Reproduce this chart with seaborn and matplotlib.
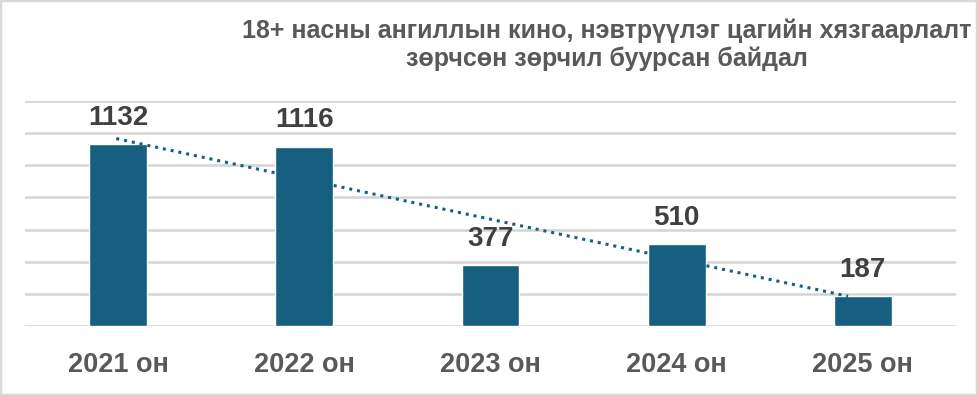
import matplotlib
matplotlib.use("Agg")
import matplotlib.pyplot as plt
import seaborn as sns
import pandas as pd
import numpy as np
from matplotlib.patches import Rectangle

years = ["2021 он", "2022 он", "2023 он", "2024 он", "2025 он"]
values = [1132, 1116, 377, 510, 187]
title = "18+ насны ангиллын кино, нэвтрүүлэг цагийн хязгаарлалт\nзөрчсөн зөрчил буурсан байдал"

sns.set_theme(style="white")
plt.rcParams['font.family'] = ['Liberation Sans', 'DejaVu Sans']

df = pd.DataFrame({"year": years, "value": values})
bar_color = "#165f80"

fig = plt.figure(figsize=(9.77, 3.95), dpi=100)
ax = fig.add_axes([25/977, 1-326/395, (956-25)/977, (326-101)/395])

sns.barplot(data=df, x="year", y="value", color=bar_color, width=0.31,
            saturation=1, ax=ax, zorder=3)

ax.set_ylim(0, 1400)
ax.set_xlim(-0.5, 4.5)
ax.set_yticks(np.arange(0, 1401, 200))
ax.yaxis.grid(True, color="#d4d4d4", linewidth=1.8, zorder=0)
ax.set_axisbelow(True)
ax.tick_params(axis="y", left=False, labelleft=False)
ax.tick_params(axis="x", bottom=False, pad=13)
for lbl in ax.get_xticklabels():
    lbl.set_fontsize(19.5)
    lbl.set_fontweight("bold")
    lbl.set_color("#595959")
ax.set_xlabel("")
ax.set_ylabel("")
for s in ax.spines.values():
    s.set_visible(False)

# value labels
for i, v in enumerate(values):
    ax.annotate(str(v), (i, v), xytext=(0, 19), textcoords="offset points",
                ha="center", va="center", fontsize=20, fontweight="bold",
                color="#404040")

# linear trendline
xs = np.arange(len(values))
k, b = np.polyfit(xs, values, 1)
xt = np.array([-0.01, 3.92])
ax.plot(xt, k*xt + b, linestyle=(0, (1, 1.6)), color=bar_color, linewidth=2.2, zorder=4)

fig.text(607/977, 1-44.5/395, title, ha="center", va="center", fontsize=18.0,
         fontweight="bold", color="#595959", linespacing=1.2)

fig.patches.append(Rectangle((0, 0), 1, 1, transform=fig.transFigure,
                             fill=False, edgecolor="#d9d9d9", linewidth=2.5))

fig.savefig("out.png", dpi=100)
